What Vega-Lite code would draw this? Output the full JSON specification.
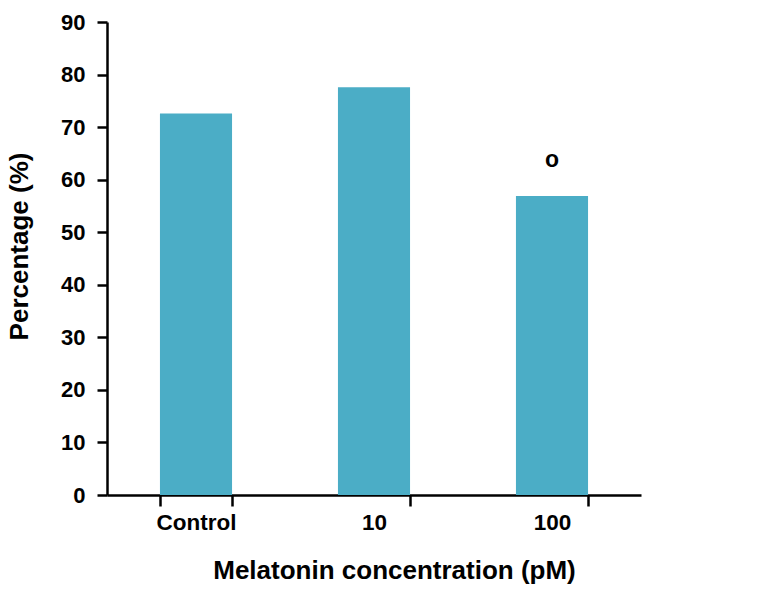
{
  "$schema": "https://vega.github.io/schema/vega-lite/v6.json",
  "autosize": {"type": "none"},
  "padding": {"left": 107, "top": 22, "right": 130, "bottom": 95},
  "width": 534,
  "height": 473,
  "background": "white",
  "config": {
    "view": {"stroke": null},
    "font": "Liberation Sans"
  },
  "data": {
    "values": [
      {"group": "Control", "pct": 72.6, "sig": ""},
      {"group": "10", "pct": 77.6, "sig": ""},
      {"group": "100", "pct": 56.9, "sig": "o"}
    ]
  },
  "encoding": {
    "x": {
      "field": "group",
      "type": "nominal",
      "sort": null,
      "scale": {"paddingInner": 0.595, "paddingOuter": 0.2975},
      "axis": {
        "title": "Melatonin concentration (pM)",
        "labelAngle": 0,
        "tickBand": "extent",
        "domainColor": "black",
        "domainWidth": 2.5,
        "tickColor": "black",
        "tickWidth": 2.5,
        "tickSize": 11,
        "labelFont": "Liberation Sans",
        "labelFontWeight": "bold",
        "labelFontSize": 22.5,
        "labelColor": "black",
        "labelPadding": 5,
        "titleFont": "Liberation Sans",
        "titleFontWeight": "bold",
        "titleFontSize": 26,
        "titleColor": "black",
        "titlePadding": 24,
        "titleX": 287
      }
    },
    "y": {
      "field": "pct",
      "type": "quantitative",
      "scale": {"domain": [0, 90], "nice": false},
      "axis": {
        "title": "Percentage (%)",
        "values": [0, 10, 20, 30, 40, 50, 60, 70, 80, 90],
        "grid": false,
        "domainColor": "black",
        "domainWidth": 2.5,
        "tickColor": "black",
        "tickWidth": 2.5,
        "tickSize": 10,
        "labelFont": "Liberation Sans",
        "labelFontWeight": "bold",
        "labelFontSize": 22,
        "labelColor": "black",
        "labelPadding": 12,
        "titleFont": "Liberation Sans",
        "titleFontWeight": "bold",
        "titleFontSize": 26,
        "titleColor": "black",
        "titlePadding": 28,
        "titleY": 224
      }
    }
  },
  "layer": [
    {"mark": {"type": "bar", "color": "#4BADC6"}},
    {
      "mark": {"type": "text", "baseline": "bottom", "dy": -24, "fontSize": 23, "fontWeight": "bold", "font": "Liberation Sans", "color": "black"},
      "encoding": {"text": {"field": "sig"}}
    }
  ]
}
